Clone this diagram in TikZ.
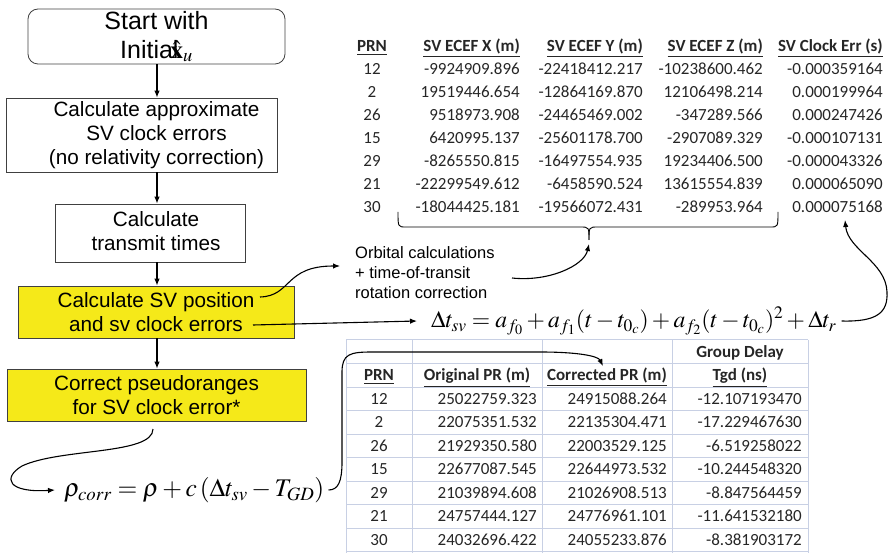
\documentclass[tikz,border=0pt]{standalone}
\usepackage[no-math]{fontspec}
\usepackage{mathptmx}
\usepackage{xcolor}
\usepackage{tikz}
\usetikzlibrary{arrows.meta,positioning,calc}
\newfontfamily\arialf{Liberation Sans}
\newfontfamily\calib{Carlito}
\definecolor{boxyellow}{RGB}{245,233,25}
\definecolor{gridblue}{RGB}{200,208,228}

\begin{document}
\begin{tikzpicture}[
x=1pt, y=-1pt,
flow/.style={draw=black!75, line width=0.8pt, align=center, inner sep=0pt, font=\arialf\fontsize{20.7}{24}\selectfont},
flowtext/.style={align=center, inner sep=0pt, font=\arialf\fontsize{20.7}{24}\selectfont},
hilite/.style={flow, fill=boxyellow},
arr/.style={-{Latex[length=7pt,width=5.5pt]}, line width=1.1pt},
note/.style={align=left, inner sep=0pt, font=\arialf\fontsize{16.5}{20}\selectfont},
num/.style={anchor=base east, inner sep=0pt, font=\calib\fontsize{17}{20}\selectfont, text=black!85},
prn/.style={num, anchor=base},
hdr/.style={num, font=\calib\bfseries\fontsize{17}{20}\selectfont},
eqn/.style={inner sep=0pt, font=\fontsize{23.6}{28}\selectfont},
grid/.style={draw=gridblue, line width=1pt}
]
\useasboundingbox (0,0) rectangle (889,553);

% flow chart
\coordinate (spine) at (157,0);
\node[flow, rounded corners=10pt, minimum width=257pt, minimum height=55pt, font=\arialf\fontsize{25}{29}\selectfont] (start) at (156.5,36.5) {Start with\\Initial\kern-8pt$\hat{\mathbf{x}}_u$};
\node[flow, minimum width=271pt, minimum height=74pt] (approx) at (141.5,135) {};
\node[flowtext] (approx-txt) at ([xshift=15pt]approx.center) {Calculate approximate\\SV clock errors\\(no relativity correction)};
\node[flow, minimum width=190pt, minimum height=58pt] (transmit) at (150,233) {};
\node[flowtext] (transmit-txt) at ([xshift=6pt,yshift=2pt]transmit.center) {Calculate\\transmit times};
\node[hilite, minimum width=276pt, minimum height=52pt] (svpos) at (156,312) {Calculate SV position\\and sv clock errors};
\node[hilite, minimum width=299pt, minimum height=52pt] (pscorr) at (156.5,395) {Correct pseudoranges\\for SV clock error*};

\draw[arr] (start.south -| spine) -- (approx.north -| spine);
\draw[arr] (approx.south -| spine) -- (transmit.north -| spine);
\draw[arr] (transmit.south -| spine) -- (svpos.north -| spine);
\draw[arr] (svpos.south -| spine) -- (pscorr.north -| spine);

% notes and equations
\node[note, anchor=west] (orbital) at (355,273) {Orbital calculations\\+ time-of-transit\\rotation correction};
\node[eqn, anchor=west] (dtsv) at (431,321) {$\Delta t_{sv} = a_{f_0} + a_{f_1}(t-t_{0_c}) + a_{f_2}(t-t_{0_c})^2 + \Delta t_r$};
\node[eqn, anchor=west, font=\fontsize{25.4}{30}\selectfont] (rhocorr) at (64,490) {$\rho_{corr} = \rho + c\left(\Delta t_{sv} - T_{GD}\right)$};

\coordinate (svposout) at (260,297);
\coordinate (svclkout) at (253,325);
\coordinate (orbtip) at (340,266);
\coordinate (orbout) at (512,278);
\coordinate (bracetip) at (589,244);
\coordinate (clktip) at (845,220);
\coordinate (psout) at (153,429);
\coordinate (cortip) at (603,366);

% top table
\node[hdr, anchor=base] (sv-hprn) at (372,51.5) {\underline{PRN}};
\node[hdr] (sv-hx) at (520,51.5) {\underline{SV ECEF X (m)}};
\node[hdr] (sv-hy) at (643,51.5) {\underline{SV ECEF Y (m)}};
\node[hdr] (sv-hz) at (763,51.5) {\underline{SV ECEF Z (m)}};
\node[hdr] (sv-hclk) at (883,51.5) {\underline{SV Clock Err (s)}};
\foreach \p/\xx/\yy/\zz/\ck [count=\i from 0] in {
  12/-9924909.896/-22418412.217/-10238600.462/-0.000359164,
  2/19519446.654/-12864169.870/12106498.214/0.000199964,
  26/9518973.908/-24465469.002/-347289.566/0.000247426,
  15/6420995.137/-25601178.700/-2907089.329/-0.000107131,
  29/-8265550.815/-16497554.935/19234406.500/-0.000043326,
  21/-22299549.612/-6458590.524/13615554.839/0.000065090,
  30/-18044425.181/-19566072.431/-289953.964/0.000075168}{
  \node[prn] (sv-prn-\i) at (372,74.5+23*\i) {\p};
  \node[num] (sv-x-\i) at (520,74.5+23*\i) {\xx};
  \node[num] (sv-y-\i) at (643,74.5+23*\i) {\yy};
  \node[num] (sv-z-\i) at (763,74.5+23*\i) {\zz};
  \node[num] (sv-clk-\i) at (883,74.5+23*\i) {\ck};
}
% brace under X, Y, Z
\draw[line width=0.9pt] (398,212) .. controls (398,227) .. (406,227) -- (580,227) .. controls (589,227) .. (589,240);
\draw[line width=0.9pt] (589,240) .. controls (589,227) .. (598,227) -- (770,227) .. controls (778,227) .. (778,212);

% bottom table
\foreach \c in {346,412,542,672,808} \draw[grid] (\c,340) -- (\c,553);
\foreach \r in {0,...,9} \draw[grid] (346,340+23.5*\r) -- (808,340+23.5*\r);
\node[hdr, anchor=base] (pr-delay) at (740,357.25) {Group Delay};
\node[hdr, anchor=base] (pr-hprn) at (379,380.75) {\underline{PRN}};
\node[hdr, anchor=base] (pr-horig) at (477,380.75) {\underline{Original PR (m)}};
\node[hdr, anchor=base] (pr-hcorr) at (607,380.75) {\underline{Corrected PR (m)}};
\node[hdr, anchor=base] (pr-htgd) at (740,380.75) {\underline{Tgd (ns)}};
\foreach \p/\orig/\corr/\tgd [count=\i from 0] in {
  12/25022759.323/24915088.264/-12.107193470,
  2/22075351.532/22135304.471/-17.229467630,
  26/21929350.580/22003529.125/-6.519258022,
  15/22677087.545/22644973.532/-10.244548320,
  29/21039894.608/21026908.513/-8.847564459,
  21/24757444.127/24776961.101/-11.641532180,
  30/24032696.422/24055233.876/-8.381903172}{
  \node[prn] (pr-prn-\i) at (379,404.25+23.5*\i) {\p};
  \node[num] (pr-orig-\i) at (537,404.25+23.5*\i) {\orig};
  \node[num] (pr-corr-\i) at (667,404.25+23.5*\i) {\corr};
  \node[num] (pr-tgd-\i) at (802,404.25+23.5*\i) {\tgd};
}

% connectors
\draw[arr] (svposout) .. controls (292,296) and (284,266) .. (orbtip);
\draw[arr] (svclkout) -- ([xshift=-14pt]dtsv.west);
\draw[arr] (orbout) .. controls (548,282) and (584,266) .. (bracetip);
\draw[arr] ([xshift=5pt]dtsv.east) .. controls (878,322) and (888,312) .. (887,292) .. controls (886,262) and (848,250) .. (clktip);
\draw[arr] (psout) .. controls (153,455) and (60,448) .. (22,466) .. controls (2,478) and (8,493) .. ([xshift=-9pt]rhocorr.west);
\draw[arr] ([xshift=4pt]rhocorr.east) .. controls (338,490) and (342,482) .. (342,462) -- (342,372) .. controls (342,354) and (350,352) .. (372,352) -- (540,352) .. controls (578,352) and (598,356) .. (cortip);
\end{tikzpicture}
\end{document}
